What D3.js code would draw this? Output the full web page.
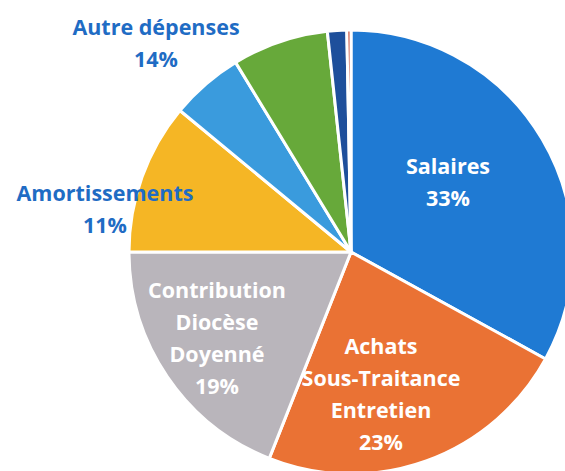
<!DOCTYPE html>
<html>
<head>
<meta charset="utf-8">
<script src="https://cdn.jsdelivr.net/npm/d3@7"></script>
<style>
  body { margin: 0; background: #fff; }
  text { font-family: "Open Sans", Lato, sans-serif; font-weight: bold; }
</style>
</head>
<body>
<div id="chart"></div>
<script>
// parts (en %), dans le sens horaire depuis midi
var categories = ["Salaires", "Achats Sous-Traitance Entretien", "Contribution Diocèse Doyenné",
                  "Amortissements", "Autre dépenses", "Divers 1", "Divers 2", "Divers 3"];
var values = [33, 23, 19, 11, 5.3, 7.0, 1.4, 0.3];
var colors = ["#1F7AD3", "#EA7234", "#B9B5BB", "#F5B625", "#3A9BDD", "#67A93A", "#1E4F9B", "#C8452E"];

// étiquettes affichées (lignes, position, couleur)
var labelLines = [
  ["Salaires", "33%"],
  ["Achats", "Sous-Traitance", "Entretien", "23%"],
  ["Contribution", "Diocèse", "Doyenné", "19%"],
  ["Amortissements", "11%"],
  ["Autre dépenses", "14%"]
];
var labelPos = [[448, 174], [381, 354], [217, 298], [105, 201], [156, 35]];
var labelColor = ["#fff", "#fff", "#fff", "#1F6CC4", "#1F6CC4"];

var width = 565, height = 471;
var cx = 351, cy = 252, radius = 222;

var svg = d3.select("#chart")
  .append("svg")
    .attr("width", width)
    .attr("height", height);

var pie = d3.pie().sort(null).value(function(d) { return d; });
var arc = d3.arc().innerRadius(0).outerRadius(radius);

var g = svg.append("g")
  .attr("transform", "translate(" + cx + "," + cy + ")");

g.selectAll("path")
  .data(pie(values))
  .enter()
  .append("path")
    .attr("d", arc)
    .attr("fill", function(d, i) { return colors[i]; })
    .attr("stroke", "#fff")
    .attr("stroke-width", 3)
    .attr("stroke-linejoin", "round");

// étiquettes
labelLines.forEach(function(lines, i) {
  var t = svg.append("text")
    .attr("text-anchor", "middle")
    .attr("fill", labelColor[i])
    .style("font-size", "21.5px");
  lines.forEach(function(l, j) {
    t.append("tspan")
      .attr("x", labelPos[i][0])
      .attr("y", labelPos[i][1] + j * 32)
      .text(l);
  });
});
</script>
</body>
</html>
